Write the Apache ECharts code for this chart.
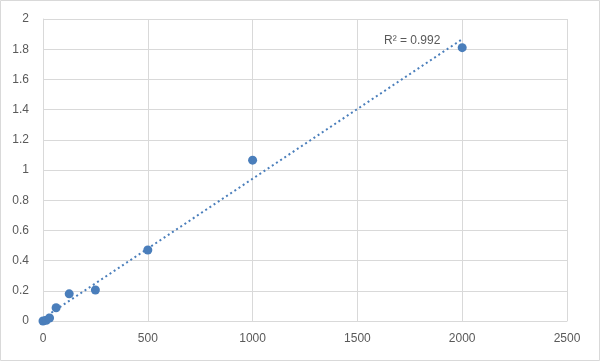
<!DOCTYPE html>
<html><head><meta charset="utf-8">
<script src="https://cdn.jsdelivr.net/npm/echarts@6/dist/echarts.min.js"></script>
<style>html,body{margin:0;padding:0;background:#fff}#c{width:600px;height:361px}</style>
</head><body><div id="c"></div>
<script>
var concentrations = [0, 15.6, 31.25, 62.5, 125, 250, 500, 1000, 2000];
var odValues = [0, 0.005, 0.02, 0.088, 0.18, 0.205, 0.47, 1.065, 1.81];
var xTicks = [0, 500, 1000, 1500, 2000, 2500];
var yTicks = [0, 0.2, 0.4, 0.6, 0.8, 1, 1.2, 1.4, 1.6, 1.8, 2];
var r2Label = 'R² = 0.992';

var n = concentrations.length, sx=0, sy=0, sxx=0, sxy=0;
for (var i=0;i<n;i++){sx+=concentrations[i];sy+=odValues[i];sxx+=concentrations[i]*concentrations[i];sxy+=concentrations[i]*odValues[i];}
var slope=(n*sxy-sx*sy)/(n*sxx-sx*sx), intercept=(sy-slope*sx)/n;
var xMin=concentrations[0], xMax=concentrations[n-1];
var trend=[[xMin, slope*xMin+intercept],[xMax, slope*xMax+intercept]];

var chart = echarts.init(document.getElementById('c'));
var gridColor = '#d9d9d9', txt = '#595959';
chart.setOption({
  animation:false,
  grid:{left:43,right:33,top:19,bottom:40},
  xAxis:{type:'value',min:xTicks[0],max:xTicks[xTicks.length-1],interval:xTicks[1]-xTicks[0],
    axisLine:{show:true,lineStyle:{color:gridColor}},axisTick:{show:false},
    splitLine:{show:true,lineStyle:{color:gridColor,width:1}},
    axisLabel:{color:txt,fontSize:12,fontFamily:'Liberation Sans, Arial',margin:12,
      formatter:function(v){return String(v);}}},
  yAxis:{type:'value',min:yTicks[0],max:yTicks[yTicks.length-1],interval:0.2,
    axisLine:{show:true,lineStyle:{color:gridColor}},axisTick:{show:false},
    splitLine:{show:true,lineStyle:{color:gridColor,width:1}},
    axisLabel:{color:txt,fontSize:12,fontFamily:'Liberation Sans, Arial',margin:14,
      formatter:function(v){return String(Math.round(v*10)/10);}}},
  series:[
    {type:'line',data:trend,symbol:'none',silent:true,
      lineStyle:{color:'#4a7ebb',width:2,type:[2,3]},z:1},
    {type:'scatter',data:concentrations.map(function(x,i){return [x,odValues[i]];}),
      symbolSize:9,itemStyle:{color:'#4a7ebb',opacity:1},z:2}
  ],
  graphic:[
    {type:'rect',shape:{x:0.5,y:0.5,width:599,height:360},style:{fill:'none',stroke:gridColor,lineWidth:1},silent:true},
    {type:'text',left:384,top:35,style:{text:r2Label,fill:txt,fontSize:12,fontFamily:'Liberation Sans, Arial'}}
  ]
});
</script></body></html>
